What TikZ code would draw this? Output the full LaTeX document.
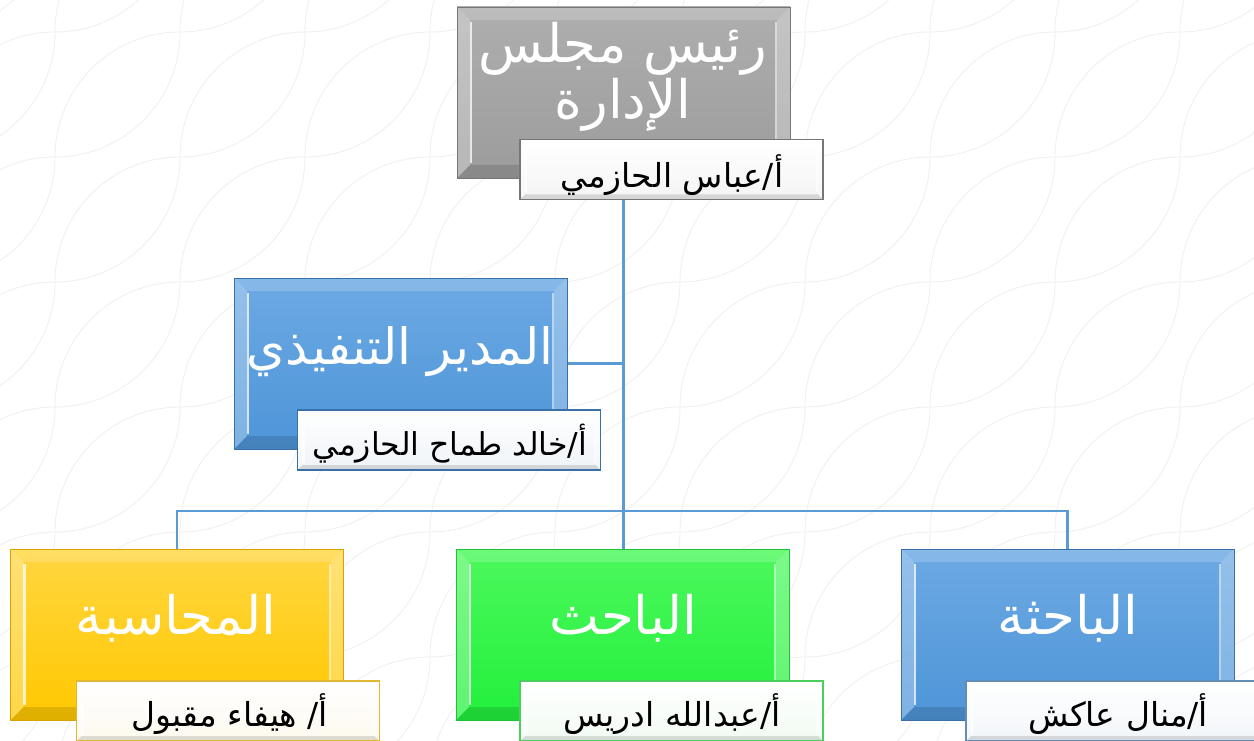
\documentclass[tikz,border=0pt]{standalone}
\usepackage{fontspec}
\newfontfamily\arabicfont[Script=Arabic]{DejaVu Sans}
\TeXXeTstate=1
\usetikzlibrary{calc}
\pgfdeclarelayer{back}
\pgfdeclarelayer{conn}
\pgfsetlayers{back,conn,main}
\definecolor{pat}{HTML}{F0F0F0}
\definecolor{linkc}{HTML}{5B9BD5}
\definecolor{greyT}{HTML}{AEAEAE}
\definecolor{greyB}{HTML}{9C9C9C}
\definecolor{greyD}{HTML}{767676}
\definecolor{blueT}{HTML}{6CA9E3}
\definecolor{blueB}{HTML}{4E95D8}
\definecolor{blueD}{HTML}{3A70A8}
\definecolor{yelT}{HTML}{FFD640}
\definecolor{yelB}{HTML}{FFC800}
\definecolor{yelD}{HTML}{D8A400}
\definecolor{grnT}{HTML}{4CF85C}
\definecolor{grnB}{HTML}{22F03C}
\definecolor{grnD}{HTML}{1EC236}
\tikzset{
  bev/.style={path picture={
    \path (path picture bounding box.north west) coordinate (@nw)
          (path picture bounding box.north east) coordinate (@ne)
          (path picture bounding box.south west) coordinate (@sw)
          (path picture bounding box.south east) coordinate (@se);
    \fill[white,opacity=0.18] (@nw) -- (@ne) -- ($(@ne)+(-#1,-#1)$) -- ($(@nw)+(#1,-#1)$) -- cycle;
    \fill[white,opacity=0.28] (@nw) -- ($(@nw)+(#1,-#1)$) -- ($(@sw)+(#1,#1)$) -- (@sw) -- cycle;
    \fill[white,opacity=0.28] (@ne) -- ($(@ne)+(-#1,-#1)$) -- ($(@se)+(-#1,#1)$) -- (@se) -- cycle;
    \fill[black,opacity=0.12] (@sw) -- ($(@sw)+(#1,#1)$) -- ($(@se)+(-#1,#1)$) -- (@se) -- cycle;
    \draw[white,opacity=0.75,line width=2.5pt] ($(@nw)+(#1+1pt,-#1-2pt)$) -- ($(@sw)+(#1+1pt,#1+2pt)$);
    \draw[white,opacity=0.55,line width=2pt] ($(@ne)+(-#1-1pt,-#1-2pt)$) -- ($(@se)+(-#1-1pt,#1+2pt)$);
  }},
  bigbox/.style={draw=#1D, line width=0.8pt, top color=#1T, bottom color=#1B,
    minimum width=333pt, minimum height=171pt, inner sep=0pt, bev=13pt},
  namebox/.style={draw=#1, line width=1.6pt, top color=white, bottom color=#1!8!white,
    minimum width=303pt, minimum height=60pt, inner sep=0pt, bev=5pt},
  bigtxt/.style={text=white, font=\arabicfont\fontsize{53}{56}\selectfont, align=center, inner sep=0pt},
  nametxt/.style={text=black, font=\arabicfont\fontsize{33}{36}\selectfont, inner sep=0pt},
  link/.style={draw=linkc, line width=2.6pt},
}
\begin{document}
\begin{tikzpicture}[x=1pt,y=-1pt]
\useasboundingbox (0,0) rectangle (1254,741);
% boxes
\node[bigbox=grey] (ceo) at (623.5,92.5) {};
\node[namebox=greyD] (ceoname) at (671.5,169.5) {};
\node[bigbox=blue] (exec) at (400.5,363.5) {};
\node[namebox=blueD] (execname) at (449,440) {};
\node[bigbox=yel] (acc) at (177,634.5) {};
\node[namebox=yelD!80!white] (accname) at (228,711) {};
\node[bigbox=grn] (res) at (622.5,634.5) {};
\node[namebox=grnD!80!white] (resname) at (671.5,711) {};
\node[bigbox=blue] (res2) at (1067.5,634.5) {};
\node[namebox=blueD!80!white] (res2name) at (1117.5,711) {};
% texts
\node[bigtxt] (ceot) at (623,77) {\beginR رئيس مجلس\endR\\\beginR الإدارة\endR};
\node[nametxt] (ceont) at (672,175) {\beginR أ/عباس الحازمي\endR};
\node[bigtxt,font=\arabicfont\fontsize{50}{56}\selectfont] (exect) at (400,352) {\beginR المدير التنفيذي\endR};
\node[nametxt,font=\arabicfont\fontsize{31.5}{36}\selectfont] (execnt) at (450,444) {\beginR أ/خالد طماح الحازمي\endR};
\node[bigtxt] (acct) at (176,618) {\beginR المحاسبة\endR};
\node[nametxt] (accnt) at (230,714) {\beginR أ/ هيفاء مقبول\endR};
\node[bigtxt] (rest) at (623,618) {\beginR الباحث\endR};
\node[nametxt] (resnt) at (672,714) {\beginR أ/عبدالله ادريس\endR};
\node[bigtxt] (res2t) at (1068,618) {\beginR الباحثة\endR};
\node[nametxt] (res2nt) at (1118,714) {\beginR أ/منال عاكش\endR};
% connectors
\begin{pgfonlayer}{conn}
\coordinate (bus) at (622,511);
\draw[link] (ceo.south) -- (ceo.south |- res.north);
\draw[link,line width=2.2pt] (ceo.south |- exec.east) -- (exec.east);
\draw[link,line width=2.2pt] (acc.north) |- (bus) -| (res2.north);
\end{pgfonlayer}
% background pattern
\begin{pgfonlayer}{back}
\fill[white] (0,0) rectangle (1254,741);
\clip (0,0) rectangle (1254,741);
\foreach \gx in {-70,55,...,1305}{
  \foreach \gy in {-93,32,...,782}{
    \draw[pat,line width=0.9pt] (\gx,\gy+125) arc[start angle=180,end angle=270,radius=125];
    \draw[pat,line width=0.9pt] (\gx,\gy+125) arc[start angle=90,end angle=0,radius=125];
  }
}
\end{pgfonlayer}
\end{tikzpicture}
\end{document}
